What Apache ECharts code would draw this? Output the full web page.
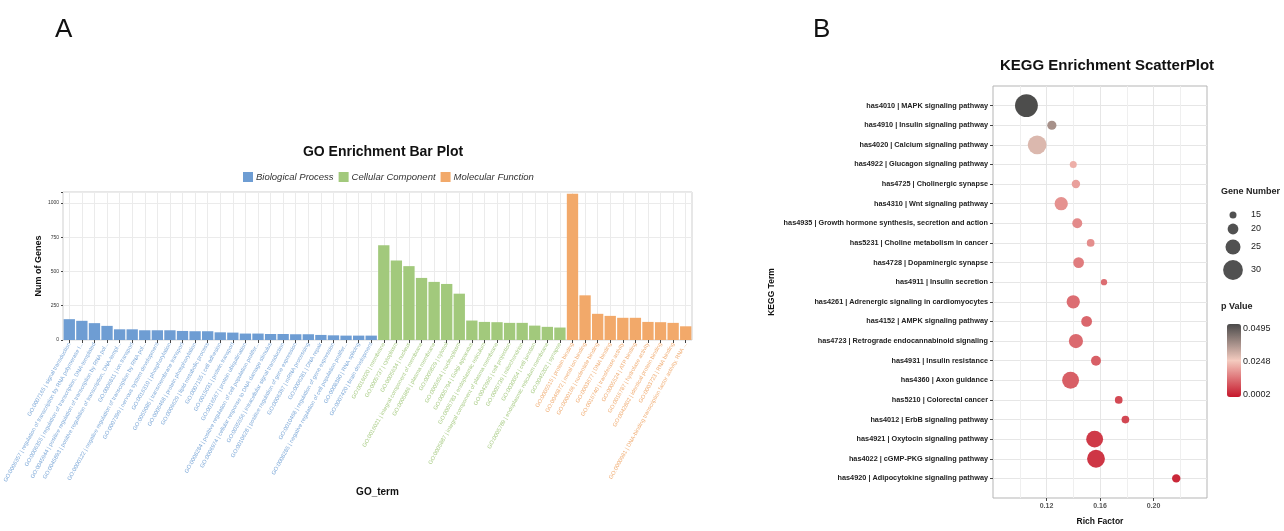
<!DOCTYPE html>
<html>
<head>
<meta charset="utf-8">
<script src="https://cdn.jsdelivr.net/npm/echarts@6.0.0/dist/echarts.min.js"></script>
<style>
html,body{margin:0;padding:0;background:#fff;}
#main{width:1284px;height:531px;}
</style>
</head>
<body>
<div id="main"></div>
<script>
// GO 条形图数据
var bpTerms = [
	'GO:0007165 | signal transduction',
	'GO:0006357 | regulation of transcription by RNA polymerase I...',
	'GO:0006355 | regulation of transcription, DNA-templated',
	'GO:0045944 | positive regulation of transcription by RNA pol...',
	'GO:0045893 | positive regulation of transcription, DNA-templ...',
	'GO:0006811 | ion transport',
	'GO:0000122 | negative regulation of transcription by RNA pol...',
	'GO:0007399 | nervous system development',
	'GO:0016310 | phosphorylation',
	'GO:0055085 | transmembrane transport',
	'GO:0006468 | protein phosphorylation',
	'GO:0006629 | lipid metabolic process',
	'GO:0007155 | cell adhesion',
	'GO:0015031 | protein transport',
	'GO:0016567 | protein ubiquitination',
	'GO:0008284 | positive regulation of cell population prolifer...',
	'GO:0006974 | cellular response to DNA damage stimulus',
	'GO:0035556 | intracellular signal transduction',
	'GO:0010628 | positive regulation of gene expression',
	'GO:0006397 | mRNA processing',
	'GO:0006281 | DNA repair',
	'GO:0010468 | regulation of gene expression',
	'GO:0008285 | negative regulation of cell population prolifer...',
	'GO:0008380 | RNA splicing',
	'GO:0007420 | brain development'
];
var bpCounts = [152, 140, 123, 103, 78, 78, 71, 71, 71, 66, 64, 64, 56, 54, 47, 47, 44, 44, 42, 42, 37, 34, 32, 32, 32];

var ccTerms = [
	'GO:0016020 | membrane',
	'GO:0005737 | cytoplasm',
	'GO:0005634 | nucleus',
	'GO:0016021 | integral component of membrane',
	'GO:0005886 | plasma membrane',
	'GO:0005829 | cytosol',
	'GO:0005654 | nucleoplasm',
	'GO:0005794 | Golgi apparatus',
	'GO:0005783 | endoplasmic reticulum',
	'GO:0005887 | integral component of plasma membrane',
	'GO:0042995 | cell projection',
	'GO:0005739 | mitochondrion',
	'GO:0030054 | cell junction',
	'GO:0005789 | endoplasmic reticulum membrane',
	'GO:0045202 | synapse'
];
var ccCounts = [691, 581, 539, 453, 424, 409, 338, 142, 132, 130, 125, 125, 105, 96, 91];

var mfTerms = [
	'GO:0005515 | protein binding',
	'GO:0046872 | metal ion binding',
	'GO:0000166 | nucleotide binding',
	'GO:0003677 | DNA binding',
	'GO:0016740 | transferase activity',
	'GO:0005524 | ATP binding',
	'GO:0016787 | hydrolase activity',
	'GO:0042802 | identical protein binding',
	'GO:0003723 | RNA binding',
	'GO:0000981 | DNA-binding transcription factor activity, RNA ...'
];
var mfCounts = [1068, 326, 191, 176, 162, 162, 132, 130, 125, 100];

// KEGG 散点图数据
var keggTerms = [
	'has4010 | MAPK signaling pathway',
	'has4910 | Insulin signaling pathway',
	'has4020 | Calcium signaling pathway',
	'has4922 | Glucagon signaling pathway',
	'has4725 | Cholinergic synapse',
	'has4310 | Wnt signaling pathway',
	'has4935 | Growth hormone synthesis, secretion and action',
	'has5231 | Choline metabolism in cancer',
	'has4728 | Dopaminergic synapse',
	'has4911 | Insulin secretion',
	'has4261 | Adrenergic signaling in cardiomyocytes',
	'has4152 | AMPK signaling pathway',
	'has4723 | Retrograde endocannabinoid signaling',
	'has4931 | Insulin resistance',
	'has4360 | Axon guidance',
	'has5210 | Colorectal cancer',
	'has4012 | ErbB signaling pathway',
	'has4921 | Oxytocin signaling pathway',
	'has4022 | cGMP-PKG signaling pathway',
	'has4920 | Adipocytokine signaling pathway'
];
var richFactor = [0.105, 0.124, 0.113, 0.140, 0.142, 0.131, 0.143, 0.153, 0.144, 0.163, 0.140, 0.150, 0.142, 0.157, 0.138, 0.174, 0.179, 0.156, 0.157, 0.217];
var geneCount = [33, 18, 29, 15, 17, 23, 19, 16, 20, 14, 23, 20, 24, 19, 27, 16, 16, 27, 28, 17];
var pValue = [0.0490, 0.0360, 0.0285, 0.0210, 0.0190, 0.0170, 0.0160, 0.0165, 0.0140, 0.0120, 0.0120, 0.0110, 0.0115, 0.0100, 0.0100, 0.0070, 0.0068, 0.0050, 0.0045, 0.0025];
var richTicks = [0.12, 0.16, 0.20];
var sizeBreaks = [15, 20, 25, 30];

var colBP = '#6e9dd3', colCC = '#a2c97c', colMF = '#f2a96a';
var font = 'Liberation Sans';

// 气泡大小
function bubble(n){
	return 7 * Math.pow(n / 15, 1.5);
}

// 拼接x轴类目，每组一个系列，其余位置留空
var goTerms = bpTerms.concat(ccTerms).concat(mfTerms);
var nBP = bpTerms.length, nCC = ccTerms.length;
var bpData = [], ccData = [], mfData = [];
for (var i = 0; i < goTerms.length; i++) {
	bpData.push(i < nBP ? bpCounts[i] : '-');
	ccData.push(i >= nBP && i < nBP + nCC ? ccCounts[i - nBP] : '-');
	mfData.push(i >= nBP + nCC ? mfCounts[i - nBP - nCC] : '-');
}
function labelColor(v, idx){
	if (idx < nBP) return '#7ea9d8';
	if (idx < nBP + nCC) return '#a9cc86';
	return '#f0ad74';
}

var keggData = [], keggIdx = [];
for (var k = 0; k < keggTerms.length; k++) {
	keggData.push([richFactor[k], k, pValue[k], geneCount[k]]);
	keggIdx.push(k);
}

// 气泡图例，每个大小单独一个legend
var sizeLegends = [], sizeSeries = [];
var legendCenterY = [214, 229, 247, 270];
for (var s = 0; s < sizeBreaks.length; s++) {
	var d = bubble(sizeBreaks[s]);
	sizeLegends.push({
		data: [String(sizeBreaks[s])],
		left: 1233 - d / 2,
		top: legendCenterY[s] - d / 2,
		padding: 0,
		icon: 'circle',
		itemWidth: d,
		itemHeight: d,
		selectedMode: false,
		textStyle: {fontFamily: font, fontSize: 9, color: '#222', padding: [0, 0, 0, 13 - d / 2]}
	});
	sizeSeries.push({
		name: String(sizeBreaks[s]),
		type: 'scatter',
		xAxisIndex: 1,
		yAxisIndex: 1,
		itemStyle: {color: '#262626'},
		data: []
	});
}

var option = {
	backgroundColor: '#fff',
	animation: false,
	title: [
		{text: 'A', left: 50, top: 12, textStyle: {fontFamily: font, fontSize: 26, fontWeight: 'normal', color: '#111'}},
		{text: 'B', left: 808, top: 12, textStyle: {fontFamily: font, fontSize: 26, fontWeight: 'normal', color: '#111'}},
		{text: 'GO Enrichment Bar Plot', left: 378, top: 140, textAlign: 'center', textStyle: {fontFamily: font, fontSize: 14, fontWeight: 'bold', color: '#111'}},
		{text: 'KEGG Enrichment ScatterPlot', left: 1102, top: 53, textAlign: 'center', textStyle: {fontFamily: font, fontSize: 15, fontWeight: 'bold', color: '#111'}},
		{text: 'Gene Number', left: 1221, top: 187, padding: 0, textStyle: {fontFamily: font, fontSize: 9, fontWeight: 'bold', color: '#222'}},
		{text: 'p Value', left: 1221, top: 302, padding: 0, textStyle: {fontFamily: font, fontSize: 9, fontWeight: 'bold', color: '#222'}}
	],
	legend: [{
		data: ['Biological Process', 'Cellular Component', 'Molecular Function'],
		left: 243,
		top: 172,
		padding: 0,
		itemGap: 5,
		itemWidth: 10,
		itemHeight: 10,
		icon: 'rect',
		selectedMode: false,
		textStyle: {fontFamily: font, fontSize: 9.5, fontStyle: 'italic', color: '#333', padding: [0, 0, 0, -2]}
	}].concat(sizeLegends),
	visualMap: {
		type: 'continuous',
		seriesIndex: 3,
		dimension: 2,
		min: 0.0002,
		max: 0.0495,
		left: 1227,
		top: 324,
		padding: 0,
		itemWidth: 14,
		itemHeight: 73,
		calculable: false,
		text: null,
		showLabel: false,
		inRange: {color: ['#c6172b', '#f4cbbf', '#4a4a4a']}
	},
	graphic: [
		{type: 'text', left: 1243, top: 324, style: {text: '0.0495', fontFamily: font, fontSize: 9, fill: '#222'}},
		{type: 'text', left: 1243, top: 357, style: {text: '0.0248', fontFamily: font, fontSize: 9, fill: '#222'}},
		{type: 'text', left: 1243, top: 390, style: {text: '0.0002', fontFamily: font, fontSize: 9, fill: '#222'}}
	],
	grid: [
		{left: 63, right: 592, top: 192, bottom: 191, show: true, borderColor: '#cfcfcf', borderWidth: 1},
		{left: 993, right: 77, top: 86, bottom: 31, show: true, borderColor: '#b5b5b5', borderWidth: 1}
	],
	xAxis: [{
		gridIndex: 0,
		type: 'category',
		data: goTerms,
		name: 'GO_term',
		nameLocation: 'middle',
		nameGap: 147,
		nameTextStyle: {fontFamily: font, fontSize: 10, fontWeight: 'bold', color: '#111'},
		axisLine: {show: false},
		axisTick: {show: true, alignWithLabel: true, length: 3, lineStyle: {color: '#444'}},
		splitLine: {show: true, interval: 0, alignWithLabel: true, lineStyle: {color: '#ebebeb', width: 1}},
		axisLabel: {interval: 0, rotate: 61, fontSize: 5.6, margin: 3, fontFamily: font, color: labelColor}
	}, {
		gridIndex: 1,
		type: 'value',
		position: 'bottom',
		min: 0.08,
		max: 0.24,
		interval: 0.04,
		name: 'Rich Factor',
		nameLocation: 'middle',
		nameGap: 19,
		nameTextStyle: {fontFamily: font, fontSize: 8.5, fontWeight: 'bold', color: '#111'},
		axisLine: {show: false, onZero: false},
		axisTick: {show: true, length: 3, customValues: richTicks, lineStyle: {color: '#444'}},
		splitLine: {show: true, lineStyle: {color: '#e6e6e6'}},
		minorTick: {show: false, splitNumber: 2},
		minorSplitLine: {show: true, lineStyle: {color: '#efefef'}},
		axisLabel: {
			fontSize: 7, fontWeight: 'bold', color: '#555', fontFamily: font, margin: 5,
			formatter: function (v) {
				if (Math.abs(v - 0.08) < 1e-6 || Math.abs(v - 0.24) < 1e-6) return '';
				return v.toFixed(2);
			}
		}
	}],
	yAxis: [{
		gridIndex: 0,
		type: 'value',
		min: 0,
		max: 1080,
		interval: 250,
		name: 'Num of Genes',
		nameLocation: 'middle',
		nameGap: 20,
		nameTextStyle: {fontFamily: font, fontSize: 9, fontWeight: 'bold', color: '#111'},
		axisLine: {show: false},
		axisTick: {show: true, length: 2, lineStyle: {color: '#444'}},
		splitLine: {show: true, lineStyle: {color: '#ebebeb'}},
		axisLabel: {
			fontSize: 5, fontFamily: font, color: '#333', margin: 4,
			formatter: function (v) { return v % 250 === 0 ? v : ''; }
		}
	}, {
		gridIndex: 1,
		type: 'value',
		inverse: true,
		min: -1,
		max: 20,
		interval: 1,
		name: 'KEGG Term',
		nameLocation: 'middle',
		nameGap: 217,
		nameTextStyle: {fontFamily: font, fontSize: 8.5, fontWeight: 'bold', color: '#111'},
		axisLine: {show: false, onZero: false},
		axisTick: {show: true, length: 3, customValues: keggIdx, lineStyle: {color: '#444'}},
		splitLine: {show: true, lineStyle: {color: '#e6e6e6'}},
		axisLabel: {
			fontSize: 7.3, fontWeight: 'bold', color: '#222', fontFamily: font, margin: 5,
			formatter: function (v) { return keggTerms[v] || ''; }
		}
	}],
	series: [{
		name: 'Biological Process',
		type: 'bar',
		xAxisIndex: 0,
		yAxisIndex: 0,
		barGap: '-100%',
		barCategoryGap: '10%',
		itemStyle: {color: colBP},
		data: bpData
	}, {
		name: 'Cellular Component',
		type: 'bar',
		xAxisIndex: 0,
		yAxisIndex: 0,
		barGap: '-100%',
		barCategoryGap: '10%',
		itemStyle: {color: colCC},
		data: ccData
	}, {
		name: 'Molecular Function',
		type: 'bar',
		xAxisIndex: 0,
		yAxisIndex: 0,
		barGap: '-100%',
		barCategoryGap: '10%',
		itemStyle: {color: colMF},
		data: mfData
	}, {
		name: 'KEGG',
		type: 'scatter',
		xAxisIndex: 1,
		yAxisIndex: 1,
		symbolSize: function (d) { return bubble(d[3]); },
		itemStyle: {opacity: 1},
		data: keggData
	}].concat(sizeSeries)
};

var myChart = echarts.init(document.getElementById('main'));
myChart.setOption(option);
</script>
</body>
</html>
